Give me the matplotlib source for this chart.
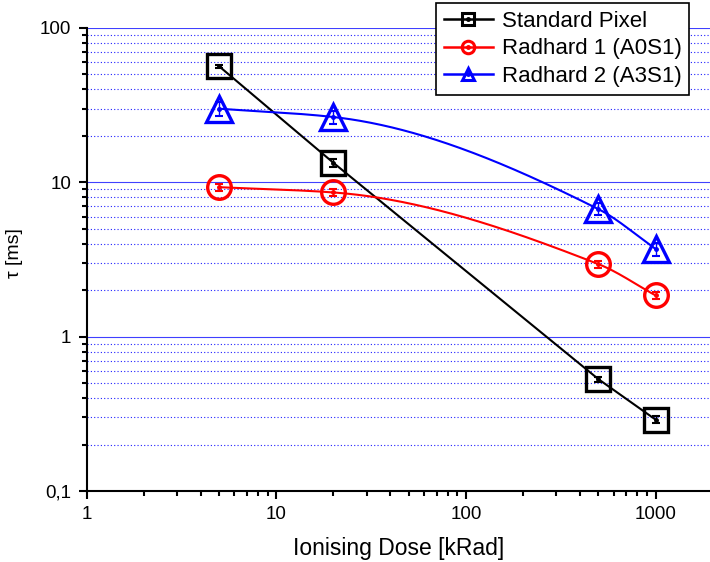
import numpy as np
import matplotlib
matplotlib.use("Agg")
import matplotlib.pyplot as plt
from matplotlib.lines import Line2D
from matplotlib.ticker import LogLocator, FixedFormatter, FixedLocator, NullFormatter

plt.rcParams["font.family"] = ["Liberation Sans", "DejaVu Sans"]

dose = [5, 20, 500, 1000]
tau_standard = [56.5, 13.4, 0.53, 0.29]
tau_radhard1 = [9.3, 8.6, 2.95, 1.85]
tau_radhard2 = [30.0, 26.5, 6.7, 3.7]
err_standard = [1.5, 0.8, 0.02, 0.015]
err_radhard1 = [0.5, 0.4, 0.15, 0.1]
err_radhard2 = [3.0, 2.5, 0.6, 0.35]

series = [
    ("Standard Pixel", tau_standard, err_standard, "black", "s", False),
    ("Radhard 1 (A0S1)", tau_radhard1, err_radhard1, "red", "o", True),
    ("Radhard 2 (A3S1)", tau_radhard2, err_radhard2, "blue", "^", True),
]


def smooth_curve(xs, ys, n=200):
    # monotone cubic (Fritsch-Carlson) through the points, in log-log space
    lx, ly = np.log10(xs), np.log10(ys)
    h = np.diff(lx)
    d = np.diff(ly) / h
    m = np.zeros(len(lx))
    m[0], m[-1] = d[0], d[-1]
    for i in range(1, len(lx) - 1):
        if d[i - 1] * d[i] > 0:
            w1 = 2 * h[i] + h[i - 1]
            w2 = h[i] + 2 * h[i - 1]
            m[i] = (w1 + w2) / (w1 / d[i - 1] + w2 / d[i])
    out_x, out_y = [], []
    for i in range(len(lx) - 1):
        t = np.linspace(0, 1, n)
        h00 = 2 * t ** 3 - 3 * t ** 2 + 1
        h10 = t ** 3 - 2 * t ** 2 + t
        h01 = -2 * t ** 3 + 3 * t ** 2
        h11 = t ** 3 - t ** 2
        out_x.extend(lx[i] + t * h[i])
        out_y.extend(h00 * ly[i] + h10 * h[i] * m[i] + h01 * ly[i + 1] + h11 * h[i] * m[i + 1])
    return 10 ** np.array(out_x), 10 ** np.array(out_y)


fig = plt.figure(figsize=(7.1, 5.62), dpi=100)
ax = fig.add_axes([86.5 / 710, 71 / 562, 623.5 / 710, 463 / 562])

handles = []
for label, tau, err, color, marker, smooth in series:
    if smooth:
        cx, cy = smooth_curve(dose, tau)
    else:
        cx, cy = dose, tau
    ax.plot(cx, cy, color=color, linewidth=1.5, zorder=3)
    ax.errorbar(dose, tau, yerr=err, fmt="none", ecolor=color, elinewidth=1,
                capsize=3, capthick=1.5, zorder=4)
    ax.plot(dose, tau, linestyle="none", marker=marker,
            markersize=17 if marker != "^" else 19,
            markerfacecolor="none", markeredgecolor=color, markeredgewidth=2.4, zorder=5)
    ax.plot(dose, tau, linestyle="none", marker="o", markersize=2.5, color=color, zorder=6)
    h1 = Line2D([], [], color=color, linewidth=1.8, marker=marker, markersize=9,
                markerfacecolor="none", markeredgecolor=color, markeredgewidth=2.2)
    h2 = Line2D([], [], linestyle="none", marker="o", markersize=2.5, color=color)
    handles.append((h1, h2))

ax.set_xscale("log")
ax.set_yscale("log")
ax.set_xlim(1, 10 ** (623.5 / 189.7))
ax.set_ylim(0.1, 100)

ax.yaxis.set_major_locator(FixedLocator([0.1, 1, 10, 100]))
ax.yaxis.set_major_formatter(FixedFormatter(["0,1", "1", "10", "100"]))
ax.yaxis.set_minor_locator(LogLocator(base=10, subs=np.arange(2, 10), numticks=20))
ax.yaxis.set_minor_formatter(NullFormatter())
ax.xaxis.set_major_locator(FixedLocator([1, 10, 100, 1000]))
ax.xaxis.set_major_formatter(FixedFormatter(["1", "10", "100", "1000"]))
ax.xaxis.set_minor_locator(LogLocator(base=10, subs=np.arange(2, 10), numticks=20))
ax.xaxis.set_minor_formatter(NullFormatter())

ax.grid(axis="y", which="major", color="#4040ff", linewidth=0.8, linestyle="-", zorder=0)
ax.grid(axis="y", which="minor", color="#2020ff", linewidth=0.8, linestyle=(0, (1, 2)), zorder=0)
ax.set_axisbelow(True)

for side in ("top", "right"):
    ax.spines[side].set_visible(False)
ax.spines["left"].set_linewidth(1.5)
ax.spines["bottom"].set_linewidth(1.5)
ax.tick_params(which="major", direction="out", length=6, width=1.5, labelsize=13.5, pad=5)
ax.tick_params(which="minor", direction="out", length=3.5, width=1.5)

ax.set_xlabel("Ionising Dose [kRad]", fontsize=16.5, labelpad=10)
ax.set_ylabel("τ [ms]", fontsize=14)
ax.yaxis.set_label_coords(-0.102, 0.514)

leg = fig.legend(handles, [s[0] for s in series], loc="upper left",
                 bbox_to_anchor=(436 / 710, 1 - 3 / 562), fontsize=16,
                 frameon=True, fancybox=False, edgecolor="black", framealpha=1,
                 handlelength=2.2, handletextpad=0.4, borderpad=0.35, labelspacing=0.3,
                 borderaxespad=0)
leg.get_frame().set_linewidth(1.2)

fig.savefig("out.png", dpi=100)
